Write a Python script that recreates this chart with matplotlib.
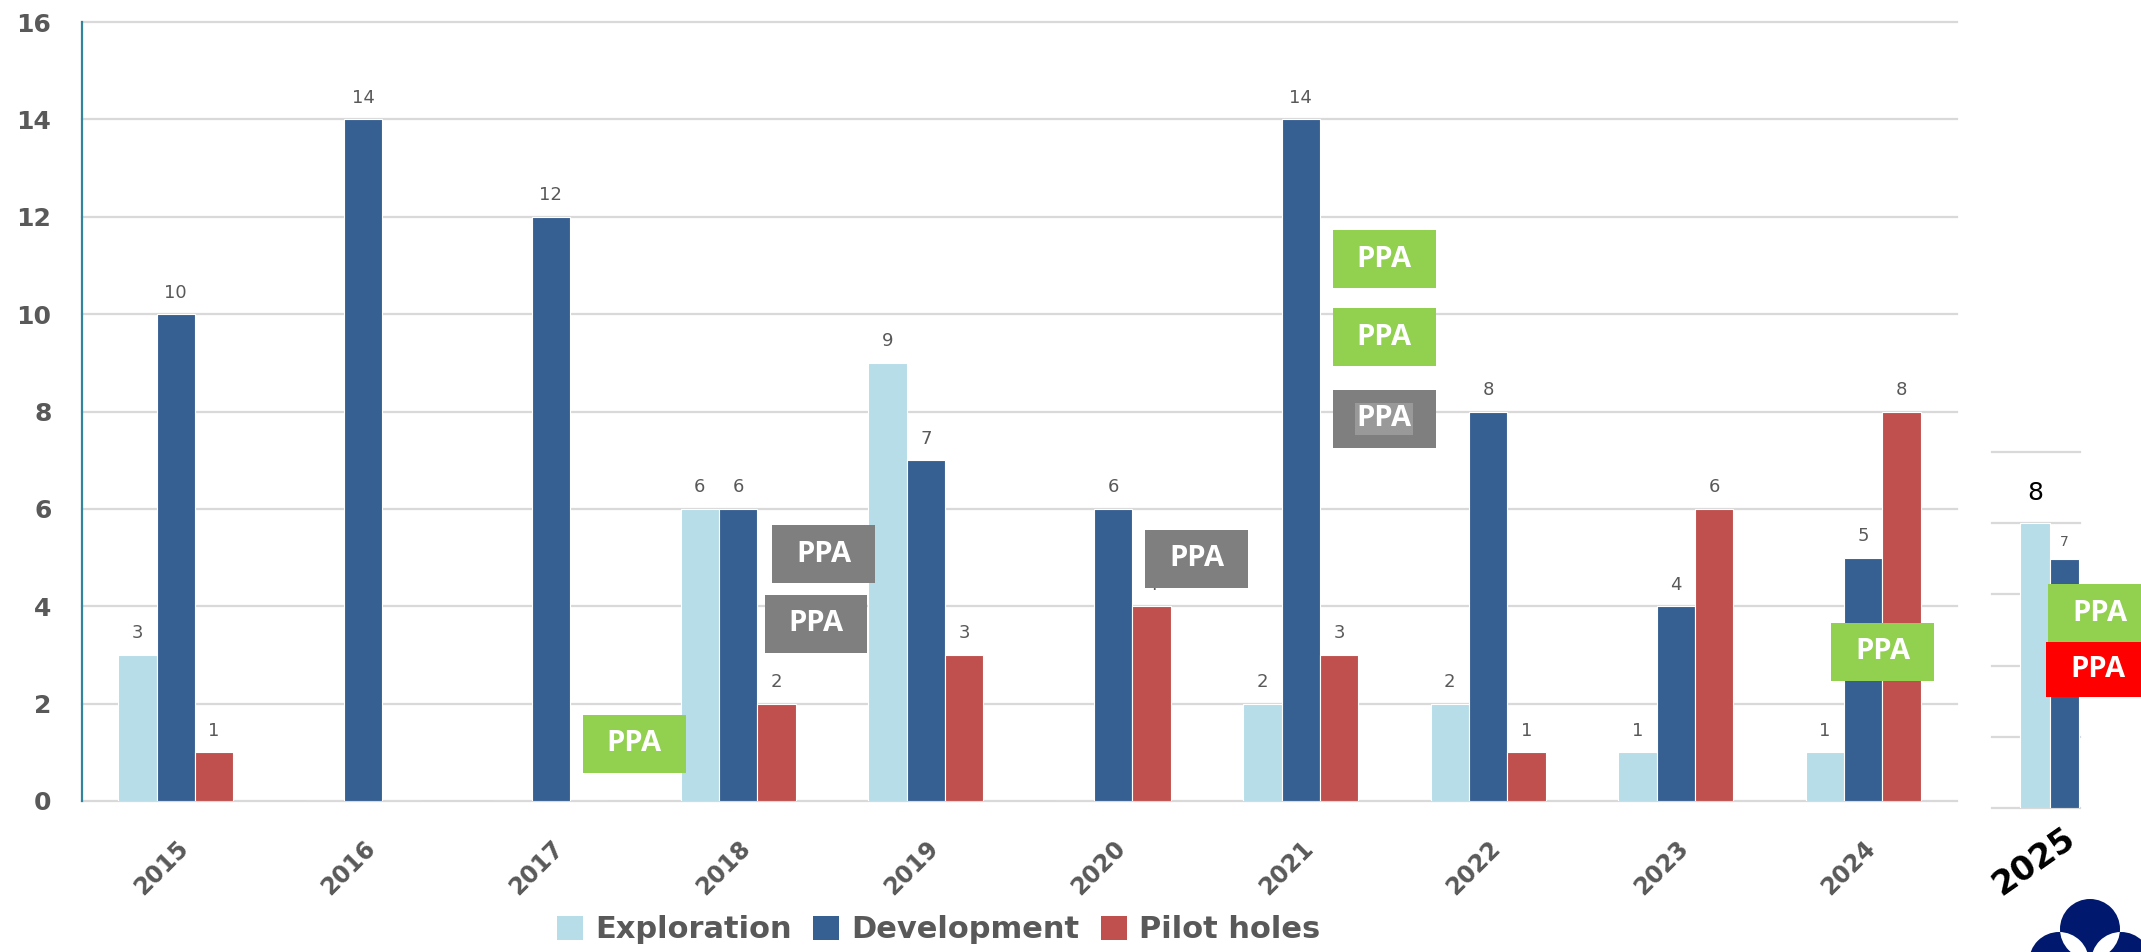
import matplotlib
matplotlib.use("Agg")
import numpy as np
import matplotlib.pyplot as plt
from matplotlib.patches import Rectangle, Patch, Circle

plt.rcParams['font.family'] = ['DejaVu Sans']

# drilled holes per year
years = ['2015', '2016', '2017', '2018', '2019', '2020', '2021', '2022', '2023', '2024']
exploration = [3, 0, 0, 6, 9, 0, 2, 2, 1, 1]
development = [10, 14, 12, 6, 7, 6, 14, 8, 4, 5]
pilot_holes = [1, 0, 0, 2, 3, 4, 3, 1, 6, 8]

# 2025 plan (separate small panel)
year_next = '2025'
exploration_next = 8
development_next = 7

series_names = ['Exploration', 'Development', 'Pilot holes']
c_exp = '#B7DDE8'
c_dev = '#366092'
c_pil = '#C0504D'
c_green = '#92D050'
c_gray = '#7F7F7F'
c_red = '#FF0000'
c_text = '#595959'
c_grid = '#D9D9D9'

W, H = 2141, 952
fig = plt.figure(figsize=(W / 100, H / 100), dpi=100)

# ---- main chart ----
ax = fig.add_axes([82 / W, 1 - 801 / H, (1957 - 82) / W, (801 - 22) / H])
x = np.arange(len(years))
w = 0.205
b_exp = ax.bar(x - w, exploration, w, color=c_exp, edgecolor='white', linewidth=0.8, zorder=2)
b_dev = ax.bar(x, development, w, color=c_dev, edgecolor='white', linewidth=0.8, zorder=2)
b_pil = ax.bar(x + w, pilot_holes, w, color=c_pil, edgecolor='white', linewidth=0.8, zorder=2)
for bars, vals in [(b_exp, exploration), (b_dev, development), (b_pil, pilot_holes)]:
    ax.bar_label(bars, labels=[str(v) if v else '' for v in vals],
                 padding=9, fontsize=13, color=c_text)

ax.set_xlim(-0.5, len(years) - 0.5)
ax.set_ylim(0, 16)
yt = list(range(0, 17, 2))
ax.set_yticks(yt)
for t in yt:
    ax.axhline(t, color=c_grid, lw=1.6, zorder=0, clip_on=False)
ax.tick_params(axis='y', length=0, pad=22, labelsize=18, labelcolor=c_text)
for lab in ax.get_yticklabels():
    lab.set_fontweight('bold')
ax.set_xticks(x)
ax.set_xticklabels(years, rotation=45, ha='right', rotation_mode='anchor',
                   fontsize=17, fontweight='bold', color=c_text)
ax.tick_params(axis='x', length=0, pad=25)
for s in ['top', 'right', 'bottom']:
    ax.spines[s].set_visible(False)
ax.spines['left'].set_color('#31849B')
ax.spines['left'].set_linewidth(1.6)


def ppa_box(axis, x0, y0, bw, bh, color, highlight=False):
    axis.add_patch(Rectangle((x0, y0), bw, bh, facecolor=color, edgecolor='none',
                             zorder=5, clip_on=False))
    kw = {}
    if highlight:
        kw['bbox'] = dict(facecolor='#999999', edgecolor='none', pad=1)
    axis.text(x0 + bw / 2, y0 + bh / 2, 'PPA', ha='center', va='center', color='white',
              fontsize=21, fontweight='bold', family=['Open Sans', 'DejaVu Sans'],
              zorder=6, clip_on=False, **kw)


# PPA tags (left, bottom, colour)
bw, bh = 0.549, 1.19
ppa_main = [
    (2.17, 0.58, c_green, False),
    (3.18, 4.47, c_gray, False),
    (3.14, 3.05, c_gray, False),
    (5.17, 4.38, c_gray, False),
    (6.17, 10.53, c_green, False),
    (6.17, 8.93, c_green, False),
    (6.17, 7.26, c_gray, True),
    (8.83, 2.47, c_green, False),
]
for px, py, col, hl in ppa_main:
    ppa_box(ax, px, py, bw, bh, col, hl)

# ---- 2025 panel ----
ax2 = fig.add_axes([1992 / W, 1 - 808 / H, 88 / W, (808 - 452) / H])
e2 = ax2.bar([0], [exploration_next], 1.0, color=c_exp, edgecolor='white', linewidth=0.8, zorder=2)
d2 = ax2.bar([1], [development_next], 1.0, color=c_dev, edgecolor='white', linewidth=0.8, zorder=2)
ax2.bar_label(e2, labels=[str(exploration_next)], padding=13, fontsize=18, color='black')
ax2.bar_label(d2, labels=[str(development_next)], padding=7, fontsize=10, color=c_text)
ax2.set_xlim(-1.48, 1.55)
ax2.set_ylim(0, 10)
for t in range(0, 11, 2):
    ax2.axhline(t, color=c_grid, lw=1.6, zorder=0, clip_on=False)
ax2.set_xticks([])
ax2.set_yticks([])
for s in ax2.spines.values():
    s.set_visible(False)
ax2.patch.set_alpha(0)
ppa_box(ax2, 0.45, 4.66, 3.55, 1.63, c_green)
ppa_box(ax2, 0.38, 3.12, 3.55, 1.54, c_red)

fig.text(2034 / W, 1 - 862 / H, year_next, rotation=35, ha='center', va='center',
         fontsize=24, fontweight='bold', color='black')

# ---- legend ----
handles = [Patch(facecolor=c, edgecolor='none') for c in (c_exp, c_dev, c_pil)]
fig.legend(handles, series_names, loc='center left', bbox_to_anchor=(557 / W, 1 - 930 / H),
           ncol=3, frameon=False, prop={'weight': 'bold', 'size': 22}, labelcolor=c_text,
           handlelength=0.85, handleheight=0.85, handletextpad=0.4, columnspacing=0.7,
           borderpad=0, borderaxespad=0)

# ---- logo corner ----
lg = fig.add_axes([0, 0, 1, 1], zorder=10)
lg.set_xlim(0, W)
lg.set_ylim(H, 0)
lg.axis('off')
navy = '#00196E'
centres = [(2090, 929), (2059, 962), (2121, 962)]
for c in centres:
    lg.add_patch(Circle(c, 30, facecolor=navy, edgecolor='none'))
for i in range(len(centres)):
    for j in range(i + 1, len(centres)):
        clip = Circle(centres[i], 30, transform=lg.transData)
        p = Circle(centres[j], 30, facecolor='white', edgecolor='none')
        lg.add_patch(p)
        p.set_clip_path(clip)

fig.savefig('out.png', dpi=100)
